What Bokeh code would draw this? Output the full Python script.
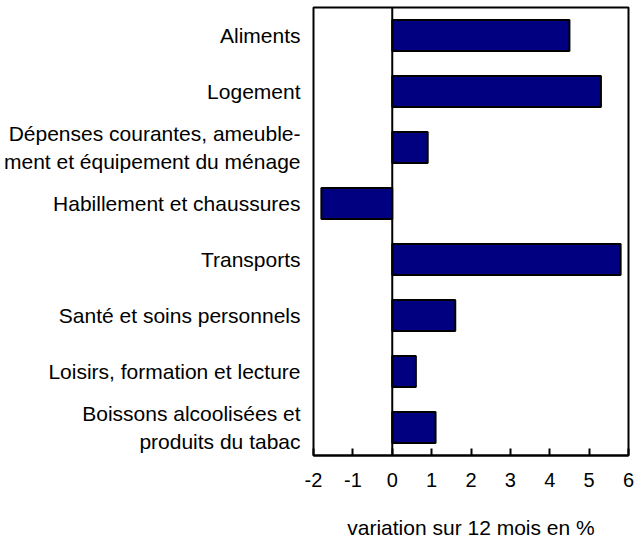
from bokeh.plotting import figure
from bokeh.models import FactorRange, Range1d, FixedTicker, Span
from bokeh.embed import file_html
from bokeh.resources import INLINE

categories = [
    "Aliments",
    "Logement",
    "Dépenses courantes, ameuble-\nment et équipement du ménage",
    "Habillement et chaussures",
    "Transports",
    "Santé et soins personnels",
    "Loisirs, formation et lecture",
    "Boissons alcoolisées et\nproduits du tabac",
]
values = [4.5, 5.3, 0.9, -1.8, 5.8, 1.6, 0.6, 1.1]
x_ticks = [-2, -1, 0, 1, 2, 3, 4, 5, 6]
x_tick_labels = ["-2", "-1", "0", "1", "2", "3", "4", "5", "6"]
x_title = "variation sur 12 mois en %"

FONT = "Liberation Sans"

p = figure(
    width=635, height=541,
    y_range=FactorRange(factors=list(reversed(categories)), range_padding=0),
    x_range=Range1d(-2, 6),
    output_backend="svg", toolbar_location=None,
    min_border_left=311, min_border_right=7, min_border_top=7, min_border_bottom=60,
)
p.y_range.factor_padding = 0
p.y_range.group_padding = 0

lefts = [min(0, v) for v in values]
rights = [max(0, v) for v in values]
p.hbar(y=categories, left=lefts, right=rights, height=0.55,
       fill_color="#000080", line_color="black", line_width=2)

p.add_layout(Span(location=0, dimension="height", line_color="black", line_width=2))

p.xgrid.visible = False
p.ygrid.visible = False
p.outline_line_color = "black"
p.outline_line_width = 2
p.outline_line_alpha = 1

xa = p.xaxis[0]
xa.ticker = FixedTicker(ticks=x_ticks)
xa.major_label_overrides = dict(zip(x_ticks, x_tick_labels))
xa.minor_tick_line_color = None
xa.major_tick_in = 7
xa.major_tick_out = 0
xa.major_tick_line_width = 2
xa.major_tick_line_color = "black"
xa.axis_line_color = "black"
xa.axis_line_width = 2
xa.major_label_text_font = FONT
xa.major_label_text_font_size = "20px"
xa.major_label_text_color = "black"
xa.major_label_standoff = 17
xa.axis_label = x_title
xa.axis_label_text_font = FONT
xa.axis_label_text_font_size = "21px"
xa.axis_label_text_font_style = "normal"
xa.axis_label_text_color = "black"
xa.axis_label_standoff = 26

ya = p.yaxis[0]
ya.axis_line_color = None
ya.major_tick_line_color = None
ya.minor_tick_line_color = None
ya.major_label_text_font = FONT
ya.major_label_text_font_size = "21px"
ya.major_label_text_color = "black"
ya.major_label_standoff = 7

open("out.html", "w").write(file_html(p, INLINE))
